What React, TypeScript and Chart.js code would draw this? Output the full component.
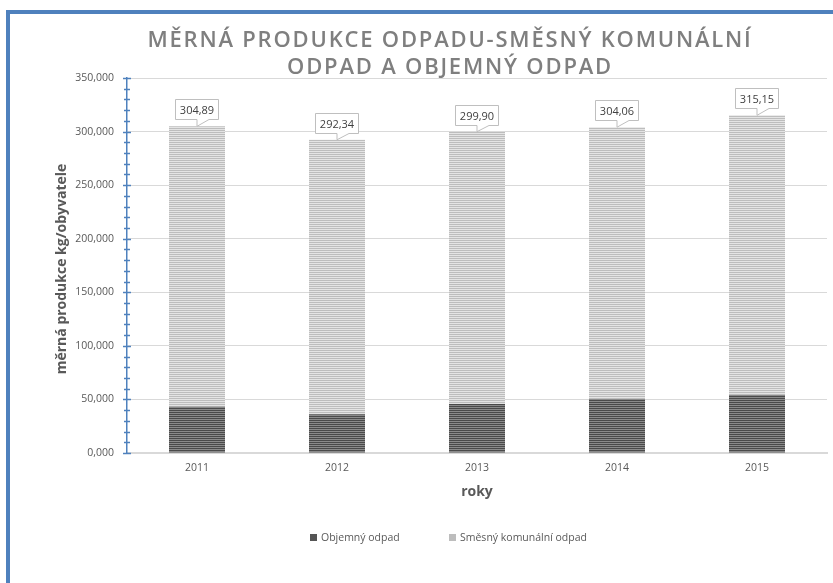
import React, { useEffect, useRef } from "react";
import { Chart, registerables } from "chart.js";

Chart.register(...registerables);

const titleLines = ["MĚRNÁ PRODUKCE ODPADU-SMĚSNÝ KOMUNÁLNÍ", "ODPAD A OBJEMNÝ ODPAD"];
const years = ["2011", "2012", "2013", "2014", "2015"];
const totals = [304.89, 292.34, 299.9, 304.06, 315.15];
const objemny = [43.2, 36.1, 45.7, 50.4, 54.1];
const smesny = totals.map((t, i) => +(t - objemny[i]).toFixed(2));
const seriesNames = ["Objemný odpad", "Směsný komunální odpad"];
const yTitle = "měrná produkce kg/obyvatele";
const xTitle = "roky";

const FONT = "'Open Sans', 'Noto Sans', sans-serif";
const TXT = "#595959";

function stripes(c1: string, c2: string): CanvasPattern | string {
  const cv = document.createElement("canvas");
  cv.width = 4;
  cv.height = 2;
  const c = cv.getContext("2d");
  if (!c) return c1;
  c.fillStyle = c1;
  c.fillRect(0, 0, 4, 1);
  c.fillStyle = c2;
  c.fillRect(0, 1, 4, 1);
  return c.createPattern(cv, "repeat") || c1;
}

const fmt = (v: number, d: number) => v.toFixed(d).replace(".", ",");

const extras = {
  id: "extras",
  afterDraw(chart: any) {
    const ctx = chart.ctx as CanvasRenderingContext2D;
    const y = chart.scales.y;
    const area = chart.chartArea;
    ctx.save();
    // title
    ctx.fillStyle = "#7f7f7f";
    ctx.font = `600 22px ${FONT}`;
    (ctx as any).letterSpacing = "1.8px";
    ctx.textAlign = "center";
    ctx.textBaseline = "middle";
    ctx.fillText(titleLines[0], 450, 41);
    ctx.fillText(titleLines[1], 450, 68);
    (ctx as any).letterSpacing = "0px";

    // axis ticks (major + minor)
    ctx.strokeStyle = "#4f81bd";
    ctx.lineWidth = 1.5;
    const ax = area.left;
    for (let v = 0; v <= 350; v += 10) {
      const py = Math.round(y.getPixelForValue(v)) + 0.5;
      const half = v % 50 === 0 ? 4 : 3;
      ctx.beginPath();
      ctx.moveTo(ax - half, py);
      ctx.lineTo(ax + half, py);
      ctx.stroke();
    }

    // y title
    ctx.fillStyle = TXT;
    ctx.font = `bold 14px ${FONT}`;
    ctx.save();
    ctx.translate(62, 269);
    ctx.rotate(-Math.PI / 2);
    ctx.fillText(yTitle, 0, 0);
    ctx.restore();

    // x title
    ctx.font = `bold 14px ${FONT}`;
    ctx.fillText(xTitle, (area.left + area.right) / 2, 492);

    // legend
    ctx.font = `10.5px ${FONT}`;
    ctx.textAlign = "left";
    const legendItems = [
      { x: 310, color: "#555555", text: seriesNames[0] },
      { x: 449, color: "#bdbdbd", text: seriesNames[1] },
    ];
    legendItems.forEach((it) => {
      ctx.fillStyle = it.color;
      ctx.fillRect(it.x, 534, 7, 7);
      ctx.fillStyle = TXT;
      ctx.fillText(it.text, it.x + 11, 538);
    });

    // data labels (callouts)
    const meta = chart.getDatasetMeta(1);
    ctx.font = `11px ${FONT}`;
    ctx.textAlign = "center";
    meta.data.forEach((bar: any, i: number) => {
      const cx = bar.x;
      const tip = bar.y;
      const text = fmt(totals[i], 2);
      const w = 43;
      const h = 20;
      const bx = Math.round(cx - w / 2 - 1) + 0.5;
      const bb = Math.round(tip - 7) + 0.5;
      const bt = bb - h;
      ctx.beginPath();
      ctx.moveTo(bx, bt);
      ctx.lineTo(bx + w, bt);
      ctx.lineTo(bx + w, bb);
      ctx.lineTo(cx + 12, bb);
      ctx.lineTo(cx, tip);
      ctx.lineTo(cx, bb);
      ctx.lineTo(bx, bb);
      ctx.closePath();
      ctx.fillStyle = "#ffffff";
      ctx.fill();
      ctx.strokeStyle = "#bfbfbf";
      ctx.lineWidth = 1;
      ctx.stroke();
      ctx.fillStyle = "#404040";
      ctx.fillText(text, bx + w / 2, bt + h / 2 + 1);
    });
    ctx.restore();
  },
};

export default function App() {
  const ref = useRef<HTMLCanvasElement | null>(null);
  useEffect(() => {
    if (!ref.current) return;
    const dark = stripes("#4a4a4a", "#8a8a8a");
    const light = stripes("#bdbdbd", "#e4e4e4");
    const chart = new Chart(ref.current, {
      type: "bar",
      data: {
        labels: years,
        datasets: [
          { label: seriesNames[0], data: objemny, backgroundColor: dark as any, barPercentage: 0.4, categoryPercentage: 1 },
          { label: seriesNames[1], data: smesny, backgroundColor: light as any, barPercentage: 0.4, categoryPercentage: 1 },
        ],
      },
      options: {
        responsive: false,
        animation: false,
        devicePixelRatio: 1,
        layout: { padding: { left: 0, right: 6, top: 78, bottom: 0 } },
        plugins: { legend: { display: false }, title: { display: false }, tooltip: { enabled: false } },
        scales: {
          x: {
            stacked: true,
            grid: { display: false, drawTicks: false },
            border: { color: "#d9d9d9", width: 2 },
            ticks: { color: TXT, font: { family: FONT, size: 10.5 }, padding: 9 },
            afterFit: (s: any) => {
              s.height = 130;
            },
          },
          y: {
            stacked: true,
            min: 0,
            max: 350,
            grid: { color: "#d9d9d9", lineWidth: 1, drawTicks: false },
            border: { color: "#4f81bd", width: 1.5 },
            ticks: {
              stepSize: 50,
              color: TXT,
              font: { family: FONT, size: 10.5 },
              padding: 13,
              callback: (v: any) => fmt(Number(v), 3),
            },
            afterFit: (s: any) => {
              s.width = 127;
            },
          },
        },
      },
      plugins: [extras],
    });
    return () => chart.destroy();
  }, []);
  return (
    <div style={{ position: "fixed", left: 0, top: 0, width: 833, height: 583, background: "#fff" }}>
      <div
        style={{
          position: "absolute",
          left: 6,
          top: 10,
          width: 840,
          height: 600,
          borderTop: "4px solid #4f81bd",
          borderLeft: "4px solid #4f81bd",
        }}
      />
      <canvas ref={ref} width={833} height={583} style={{ position: "absolute", left: 0, top: 0 }} />
    </div>
  );
}
